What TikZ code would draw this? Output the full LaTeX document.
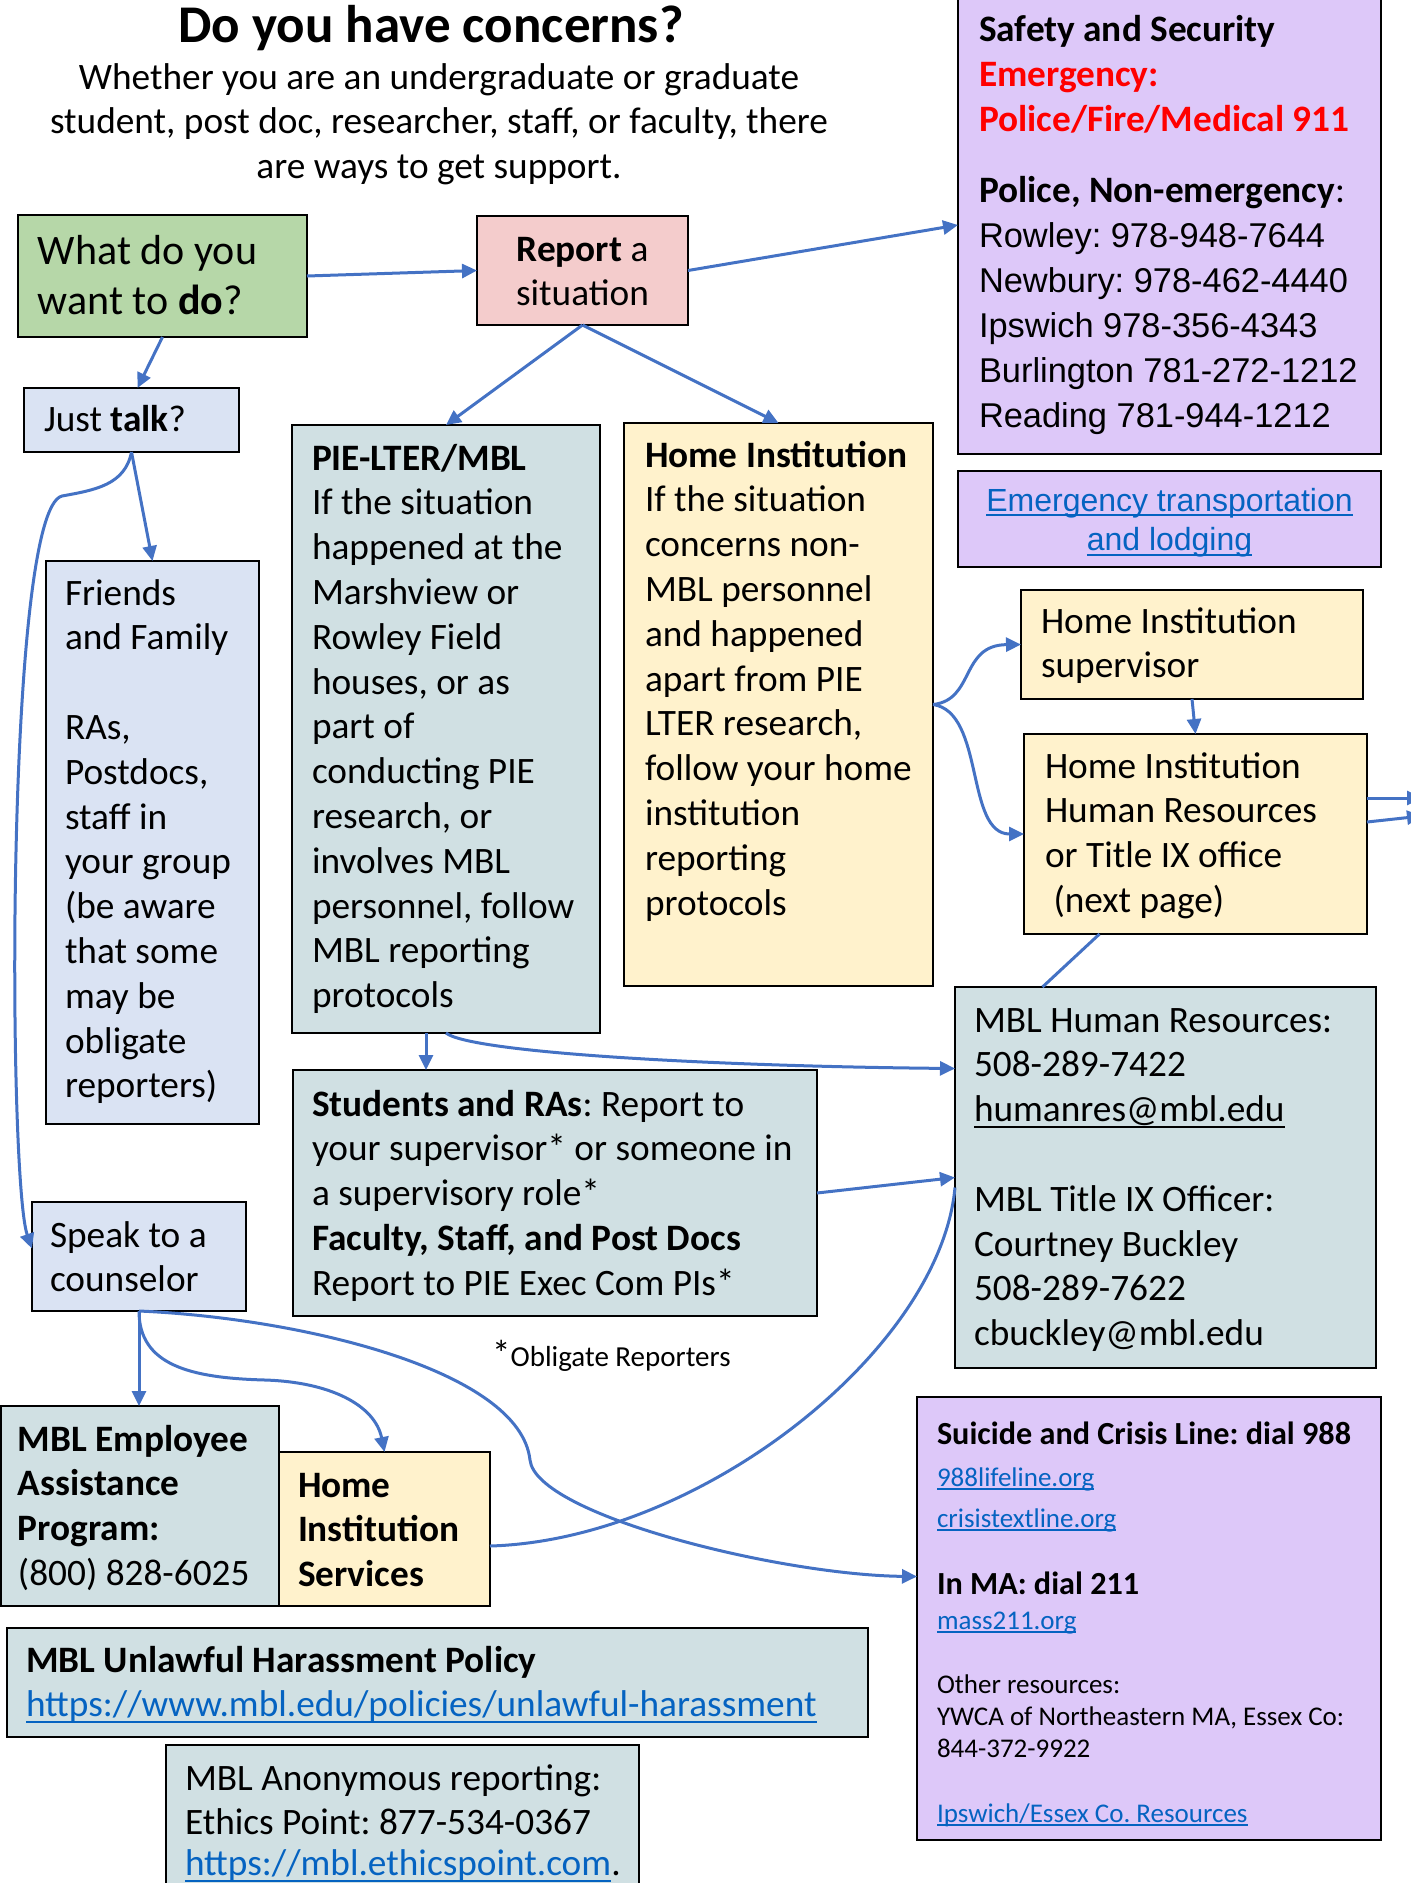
\documentclass[tikz,border=0pt]{standalone}
\usepackage{fontspec}
\setmainfont{Carlito}
\newfontfamily\arialfont{Liberation Sans}
\usepackage{tikz}
\usetikzlibrary{arrows.meta, positioning}
\definecolor{whatgreen}{HTML}{B6D7A8}
\definecolor{reportpink}{HTML}{F4CCCC}
\definecolor{safetylilac}{HTML}{DDC8F9}
\definecolor{talkblue}{HTML}{DAE3F3}
\definecolor{mblgrey}{HTML}{D0E0E3}
\definecolor{homeyellow}{HTML}{FFF2CC}
\definecolor{arrowblue}{HTML}{4472C4}
\definecolor{linkblue}{HTML}{0563C1}
\newcommand{\bodyfont}{\fontsize{37.3}{44.8}\selectfont}
\newcommand{\ulined}[1]{\leavevmode\setbox0=\hbox{#1}\rlap{\rule[-0.16em]{\wd0}{2pt}}\box0}
\newcommand{\weblink}[1]{\textcolor{linkblue}{\ulined{#1}}}
\tikzstyle{box} = [draw=black, line width=2.5pt, anchor=north west, inner ysep=0pt, outer sep=0pt,
                   align=left, font=\bodyfont]
\tikzstyle{flow} = [draw=arrowblue, line width=3pt, -{Triangle[length=15pt, width=14pt]}]
\tikzstyle{wire} = [draw=arrowblue, line width=3pt]
\tikzset{pad/.style={inner xsep=0pt, execute at begin node={\leftskip=#1\spaceskip=0pt\relax}},
         natural/.style={execute at begin node={\spaceskip=\fontdimen2\font\relax}}}

\begin{document}
\frenchspacing
\begin{tikzpicture}[x=1pt, y=-1pt]
\useasboundingbox (0, 0) rectangle (1411, 1883);

% heading
\node (Title) [anchor=base, font=\fontsize{53}{60}\selectfont\bfseries] at (431, 42) {Do you have concerns?};
\node (Intro) [natural, anchor=base, inner sep=0pt, text width=900pt, align=center, font=\fontsize{37.3}{44.5}\selectfont] at (439, 89)
      {Whether you are an undergraduate or graduate\\ student, post doc, researcher, staff, or faculty, there\\ are ways to get support.};

% first choice
\node (WhatDo) [box, fill=whatgreen, font=\fontsize{42}{50}\selectfont, text width=289pt, pad=20pt,
      text height=49pt, text depth=73pt] at (18, 215) {What do you\\ want to \textbf{do}?};
\node (Report) [box, natural, fill=reportpink, align=center, text width=191pt, inner xsep=10pt,
      text height=45pt, text depth=64pt] at (477, 216) {\textbf{Report} a\\ situation};

% safety
\node (Safety) [box, fill=safetylilac, font=\fontsize{37.3}{45}\selectfont, text width=423pt, pad=21pt,
      text height=45pt, text depth=413pt] at (958, -4)
      {\textbf{Safety and Security}\\
       \textcolor{red}{\textbf{Emergency:}}\\
       \textcolor{red}{\textbf{Police/Fire/Medical 911}}\\[26pt]
       \textbf{Police, Non-emergency}:\\
       {\fontsize{34.4}{45}\arialfont Rowley: 978-948-7644}\\
       {\fontsize{34.4}{45}\arialfont Newbury: 978-462-4440}\\
       {\fontsize{34.4}{45}\arialfont Ipswich 978-356-4343}\\
       {\fontsize{34.4}{45}\arialfont Burlington 781-272-1212}\\
       {\fontsize{34.4}{45}\arialfont Reading 781-944-1212}};
\node (EmTransport) [box, natural, fill=safetylilac, align=center, font=\fontsize{32}{39.6}\arialfont, text width=403pt,
      inner xsep=10pt, text height=40pt, text depth=56pt] at (958, 471)
      {\weblink{Emergency transportation}\\ \weblink{and lodging}};

% just talk
\node (JustTalk) [box, fill=talkblue, text width=215pt, pad=20pt,
      text height=43pt, text depth=21pt] at (24, 388) {Just \textbf{talk}?};
\node (Friends) [box, fill=talkblue, text width=213pt, pad=19pt,
      text height=44pt, text depth=519pt] at (46, 561)
      {Friends\\ and Family\\[44.8pt] RAs,\\ Postdocs,\\ staff in\\ your group\\ (be aware\\ that some\\ may be\\ obligate\\ reporters)};

% reporting routes
\node (PieLter) [box, fill=mblgrey, text width=308pt, pad=20pt,
      text height=45pt, text depth=563pt] at (292, 425)
      {\textbf{PIE-LTER/MBL}\\ If the situation\\ happened at the\\ Marshview or\\ Rowley Field\\ houses, or as\\ part of\\ conducting PIE\\ research, or\\ involves MBL\\ personnel, follow\\ MBL reporting\\ protocols};
\node (HomeInst) [box, fill=homeyellow, text width=309pt, pad=21pt,
      text height=44pt, text depth=519pt] at (624, 423)
      {\textbf{Home Institution}\\ If the situation\\ concerns non-\\ MBL personnel\\ and happened\\ apart from PIE\\ LTER research,\\ follow your home\\ institution\\ reporting\\ protocols};
\node (HomeSuper) [box, fill=homeyellow, text width=342pt, pad=20pt,
      text height=43pt, text depth=66pt] at (1021, 590) {Home Institution\\ supervisor};
\node (HomeHR) [box, fill=homeyellow, text width=343pt, pad=21pt,
      text height=44pt, text depth=156pt] at (1024, 734)
      {Home Institution\\ Human Resources\\ or Title IX office\\ \hspace*{0.23em}(next page)};
\node (MblHR) [box, fill=mblgrey, text width=421pt, pad=19pt,
      text height=45pt, text depth=336pt] at (955, 987)
      {MBL Human Resources:\\ 508-289-7422\\ \ulined{humanres@mbl.edu}\\[44.8pt] MBL Title IX Officer:\\ Courtney Buckley\\ 508-289-7622\\ cbuckley@mbl.edu};
\node (Students) [box, fill=mblgrey, text width=524pt, pad=19pt,
      text height=46pt, text depth=200pt] at (293, 1070)
      {\textbf{Students and RAs}: Report to\\ your supervisor* or someone in\\ a supervisory role*\\ \textbf{Faculty, Staff, and Post Docs}\\ Report to PIE Exec Com PIs*};
\node (Obligate) [anchor=base west, inner sep=0pt, font=\fontsize{29}{34}\selectfont] at (492, 1366)
      {{\fontsize{37}{40}\selectfont *}Obligate Reporters};

% counselling
\node (Speak) [box, fill=talkblue, text width=214pt, pad=18pt,
      text height=45pt, text depth=64pt] at (32, 1202) {Speak to a\\ counselor};
\node (EmpAssist) [box, fill=mblgrey, text width=278pt, pad=17pt,
      text height=45pt, text depth=155pt] at (1, 1406)
      {\textbf{MBL Employee}\\ \textbf{Assistance}\\ \textbf{Program:}\\ (800) 828-6025};
\node (HomeServ) [box, fill=homeyellow, text width=211pt, pad=19pt,
      text height=45pt, text depth=109pt] at (279, 1452)
      {\textbf{Home}\\ \textbf{Institution}\\ \textbf{Services}};
\node (Crisis) [box, fill=safetylilac, font=\fontsize{27}{32}\selectfont, text width=464pt, pad=20pt,
      text height=47pt, text depth=396pt] at (917, 1397)
      {{\fontsize{32.2}{32}\selectfont\textbf{Suicide and Crisis Line: dial 988}}\\[10pt]
       \weblink{988lifeline.org}\\[9pt]
       \weblink{crisistextline.org}\\[35pt]
       {\fontsize{32.2}{32}\selectfont\textbf{In MA: dial 211}}\\[3pt]
       \weblink{mass211.org}\\[32pt]
       Other resources:\\
       YWCA of Northeastern MA, Essex Co:\\
       844-372-9922\\[33pt]
       \weblink{Ipswich/Essex Co. Resources}};

% policy and anonymous line
\node (Policy) [box, fill=mblgrey, text width=861pt, pad=19pt,
      text height=44pt, text depth=65pt] at (7, 1628)
      {\textbf{MBL Unlawful Harassment Policy}\\ \weblink{https://www.mbl.edu/policies/unlawful-harassment}};
\node (Anon) [box, fill=mblgrey, text width=473pt, pad=19pt,
      text height=45pt, text depth=120pt] at (166, 1745)
      {MBL Anonymous reporting:\\ Ethics Point: 877-534-0367\\[-4pt] \weblink{https://mbl.ethicspoint.com}.};

% connectors from the top
\draw [flow] (WhatDo.east) -- (Report.west);
\draw [flow] (Report.east) -- (Safety.west);
\draw [flow] (WhatDo.south) -- ([xshift=6pt]JustTalk.north);
\draw [flow] (Report.south) -- (PieLter.north);
\draw [flow] (Report.south) -- (HomeInst.north);

% just talk branches
\draw [flow] (JustTalk.south) -- (Friends.north);
\draw [flow] (JustTalk.south) .. controls (125, 485) and (95, 490) .. (62, 496)
             .. controls (5, 510) and (8, 1180) .. ([yshift=8pt]Speak.west);

% home institution branches
\draw [flow] (HomeInst.east) .. controls (975, 700) and (960, 645) .. (HomeSuper.west);
\draw [flow] (HomeInst.east) .. controls (985, 712) and (965, 834) .. (HomeHR.west);
\draw [flow] (HomeSuper.south) -- (HomeHR.north);
\coordinate (NextPageA) at (1422, 798);
\coordinate (NextPageB) at (1422, 816);
\draw [flow] (HomeHR.east |- NextPageA) -- (NextPageA);
\draw [flow] ([yshift=12pt]HomeHR.east) -- (NextPageB);
\draw [wire] ([xshift=-96pt]HomeHR.south) -- ([xshift=-123pt]MblHR.north);

% mbl branches
\draw [flow] ([xshift=-20pt]PieLter.south) -- ([xshift=-20pt]PieLter.south |- Students.north);
\draw [flow] (PieLter.south) .. controls (470, 1052) and (700, 1066) .. ([yshift=109pt]MblHR.west);
\draw [flow] (Students.east) -- (MblHR.west);

% counselor branches
\draw [flow] (Speak.south) -- (Speak.south |- EmpAssist.north);
\draw [flow] (Speak.south) .. controls (139, 1365) and (190, 1378) .. (265, 1380)
             .. controls (330, 1382) and (375, 1405) .. (HomeServ.north);
\draw [flow] (Speak.south) .. controls (300, 1318) and (520, 1370) .. (530, 1460)
             .. controls (536, 1515) and (780, 1575) .. ([yshift=42pt]Crisis.west);
\draw [wire] ([yshift=-17pt]HomeServ.east) .. controls (700, 1540) and (940, 1350) .. ([yshift=-10pt]MblHR.west);
\end{tikzpicture}
\end{document}
